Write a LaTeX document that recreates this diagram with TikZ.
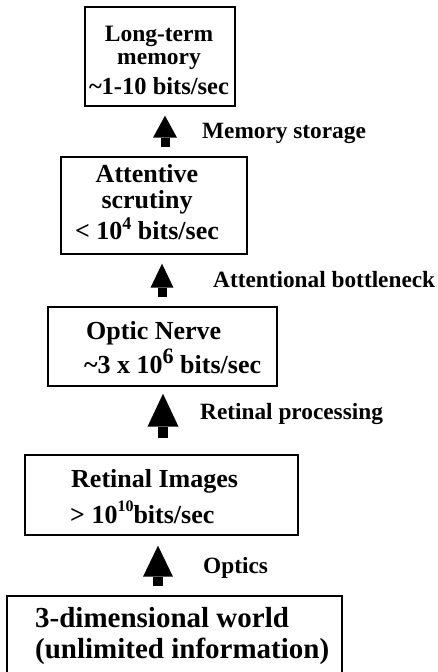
\documentclass[tikz,border=0pt]{standalone}
\usepackage{fontspec}
\setmainfont{Liberation Serif}
\usetikzlibrary{arrows.meta}

% raised exponent: size, raise, digits
\newcommand\expo[3]{\raisebox{#2}{\fontsize{#1}{#1}\selectfont #3}}

\tikzset{
  stage/.style={draw, line width=1.4pt, inner sep=0pt},
  txt/.style={inner sep=0pt, font=\fontsize{#1}{#1}\selectfont\bfseries},
  flow/.style n args={3}{line width=#1,
    -{Triangle[width=#2, length=#3, line width=0pt]}},
}

\begin{document}
\begin{tikzpicture}[x=1pt, y=-1pt]
  \useasboundingbox (0,0) rectangle (438,672);
  \clip (0,0) rectangle (438,672);

  % stages, bottom to top
  \node[stage, minimum width=150pt, minimum height=99pt]  (b1) at (160,56.5) {};
  \node[stage, minimum width=186pt, minimum height=97pt]  (b2) at (154,205.5) {};
  \node[stage, minimum width=229pt, minimum height=79pt]  (b3) at (162.5,346.5) {};
  \node[stage, minimum width=273pt, minimum height=80pt]  (b4) at (161.5,495) {};
  \node[stage, minimum width=335pt, minimum height=110pt] (b5) at (174.5,651) {};

  % stage texts
  \node[txt=23.5, anchor=base] (t1a) at (159,41) {Long-term};
  \node[txt=23.5, anchor=base] (t1b) at (159,64) {memory};
  \node[txt=24.5, anchor=base] (t1c) at (159,94) {\textasciitilde1-10 bits/sec};

  \node[txt=26, anchor=base] (t2a) at (147,182) {Attentive};
  \node[txt=26, anchor=base] (t2b) at (147,208) {scrutiny};
  \node[txt=26, anchor=base] (t2c) at (147,239) {< 10\expo{18}{10pt}{4} bits/sec};

  \node[txt=26, anchor=base west] (t3a) at (86,339) {Optic Nerve};
  \node[txt=26, anchor=base west] (t3b) at (84,373) {\textasciitilde3 x 10\expo{22}{10pt}{6} bits/sec};

  \node[txt=26, anchor=base west] (t4a) at (71,487) {Retinal Images};
  \node[txt=26, anchor=base west] (t4b) at (70,523) {> 10\expo{16}{12pt}{10}bits/sec};

  \node[txt=29, anchor=base west] (t5a) at (35,627) {3-dimensional world};
  \node[txt=29, anchor=base west] (t5b) at (35,658) {(unlimited information)};

  % arrow positions
  \coordinate (ax1) at (165,0);
  \coordinate (ax2) at (162,0);
  \coordinate (ax3) at (163,0);
  \coordinate (ax4) at (158,0);

  \draw[flow={9pt}{24pt}{22pt}, shorten <=9pt, shorten >=9pt]
    (b2.north -| ax1) -- (b1.south -| ax1);
  \draw[flow={9pt}{23pt}{24pt}, shorten <=9pt, shorten >=9pt]
    (b3.north -| ax2) -- (b2.south -| ax2);
  \draw[flow={10pt}{31pt}{33pt}, shorten <=16pt, shorten >=7pt]
    (b4.north -| ax3) -- (b3.south -| ax3);
  \draw[flow={10pt}{30pt}{31pt}, shorten <=9pt, shorten >=10pt]
    (b5.north -| ax4) -- (b4.south -| ax4);

  % arrow labels
  \node[txt=23.3, anchor=base west] (l1) at (202,138) {Memory storage};
  \node[txt=23.3, anchor=base west] (l2) at (213,287) {Attentional bottleneck};
  \node[txt=23.3, anchor=base west] (l3) at (200,419) {Retinal processing};
  \node[txt=23.3, anchor=base west] (l4) at (203,573) {Optics};
\end{tikzpicture}
\end{document}
